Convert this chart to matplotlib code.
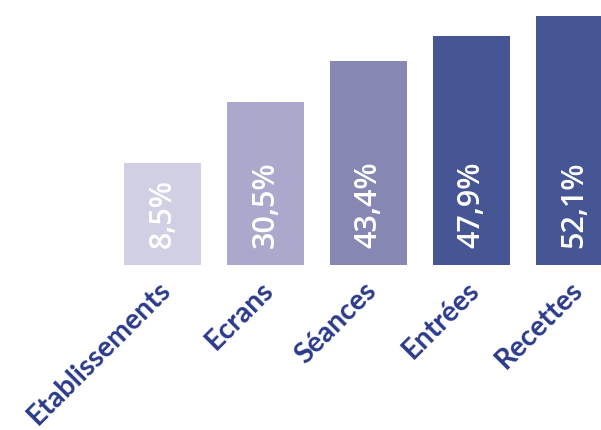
import matplotlib
matplotlib.use('Agg')
import matplotlib.pyplot as plt
import numpy as np

categories = ['Etablissements', 'Ecrans', 'Séances', 'Entrées', 'Recettes']
values = [8.5, 30.5, 43.4, 47.9, 52.1]
# bar heights as drawn in the picture (not proportional to the values)
bar_heights = [102, 163, 204, 229, 249]
colors = ['#d0cfe3', '#aaa8cb', '#8787b4', '#465593', '#465593']

fig = plt.figure(figsize=(6.01, 4.31), dpi=100)
ax = fig.add_axes([0, 0, 1, 1])

x = np.arange(len(categories))
ax.bar(x, bar_heights, width=0.75, color=colors)

for i, v in enumerate(values):
  ax.text(x[i], 18, f'{v:.1f}%'.replace('.', ','), rotation=90,
          ha='center', va='bottom', color='white', fontsize=22,
          family='Open Sans', fontweight='semibold')

for i, c in enumerate(categories):
  ax.text(x[i] - 0.05, -11, c, rotation=45, rotation_mode='anchor',
          ha='right', va='top', color='#2b3a8a', fontsize=20.5,
          family='Lato', fontweight='bold')

ax.set_xlim(-162.5 / 103, (601 - 162.5) / 103)
ax.set_ylim(-165, 266)
ax.axis('off')

fig.savefig('out.png', dpi=100)
